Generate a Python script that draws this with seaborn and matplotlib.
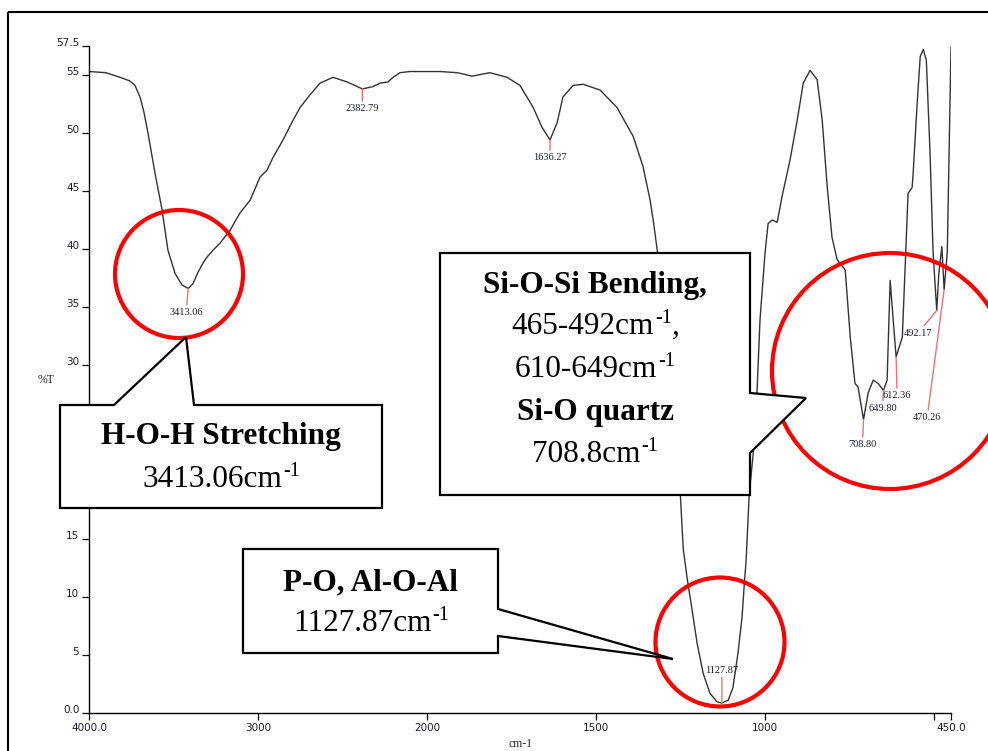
import numpy as np
import pandas as pd
import matplotlib
matplotlib.use("Agg")
import matplotlib.pyplot as plt
import seaborn as sns
from matplotlib.patches import Circle, Polygon

# FTIR spectrum: wavenumber (cm-1) and transmittance (%T)
wavenumber = [
    4000, 3900, 3817, 3760, 3728, 3698, 3675, 3651, 3609, 3568, 3533, 3491,
    3450, 3413.06, 3385, 3355, 3325, 3302, 3266, 3225, 3166, 3107, 3047, 2988,
    2947, 2911, 2852, 2793, 2751, 2692, 2633, 2556, 2473, 2382.79, 2320, 2278,
    2231, 2201, 2160, 2101, 1962, 1911, 1867, 1814, 1763, 1725, 1686, 1660,
    1636.27, 1615, 1598, 1568, 1538, 1488, 1438, 1390, 1361, 1340, 1331, 1319,
    1285, 1251, 1242, 1230, 1216, 1201, 1183, 1163, 1142, 1127.87, 1109, 1095,
    1080, 1068, 1062, 1056, 1047, 1035, 1024, 1015, 1000, 991, 979, 964, 950,
    926, 905, 887, 867, 846, 831, 816, 802, 787, 763, 748, 734, 725, 708.80,
    695, 680, 665, 649.80, 639, 630, 621, 612.36, 594, 586, 577, 565, 562, 550,
    541, 532, 523, 512, 503, 492.17, 486, 477, 470.26, 461, 450,
]
transmittance = [
    55.3, 55.2, 54.8, 54.5, 54.1, 53.1, 51.8, 50.0, 46.5, 43.4, 39.9, 37.9,
    36.9, 36.6, 37.0, 38.0, 38.8, 39.3, 39.9, 40.5, 41.6, 43.1, 44.2, 46.2,
    46.8, 47.9, 49.4, 51.1, 52.2, 53.3, 54.3, 54.8, 54.4, 53.8, 54.0, 54.3,
    54.4, 54.8, 55.2, 55.3, 55.3, 55.2, 54.9, 55.2, 54.8, 54.1, 52.2, 50.5,
    49.4, 50.9, 53.1, 54.1, 54.2, 53.7, 52.2, 49.7, 47.1, 44.2, 42.5, 39.9,
    29.5, 19.0, 14.1, 11.5, 8.9, 6.0, 3.4, 1.7, 0.95, 0.86, 1.1, 2.2,
    5.2, 8.3, 10.9, 13.2, 18.8, 22.4, 27.6, 33.9, 39.7, 42.2, 42.5, 42.3, 44.5,
    47.7, 51.1, 54.3, 55.4, 54.6, 51.1, 45.3, 41.0, 39.1, 38.2, 32.4, 28.4, 28.1, 25.3,
    27.6, 28.7, 28.4, 27.8, 28.7, 37.3, 33.9, 30.7, 32.4, 38.2, 44.8, 45.3, 46.5, 52.6,
    56.6, 57.2, 56.3, 48.3, 39.7, 34.7, 37.9, 40.2, 36.5, 39.7, 57.4,
]

# Labelled peaks and where their labels sit (pixel offsets from the peak)
peak_wn = [3413.06, 2382.79, 1636.27, 1127.87, 708.80, 649.80, 612.36, 492.17, 470.26]
peak_text = ["3413.06", "2382.79", "1636.27", "1127.87", "708.80", "649.80",
             "612.36", "492.17", "470.26"]
peak_label_offset = [(-2, -24), (0, -20), (0, -18), (0, 33), (-1, -25),
                     (-1, -18), (1, -39), (-19, -23), (-17, -128)]

x_ticks = [4000, 3000, 2000, 1500, 1000, 500, 450]
x_tick_labels = ["4000.0", "3000", "2000", "1500", "1000", "", "450.0"]
y_ticks = [0, 5, 10, 15, 20, 25, 30, 35, 40, 45, 50, 55, 57.5]
# 20 and 25 sit underneath the H-O-H callout box
y_tick_labels = ["0.0", "5", "10", "15", "", "", "30", "35", "40", "45",
                 "50", "55", "57.5"]

df = pd.DataFrame({"wavenumber": wavenumber, "T": transmittance})

sns.set_style("white")

fig = plt.figure(figsize=(9.88, 7.51), dpi=100)
ax = fig.add_axes([89 / 988, 38 / 751, 862 / 988, 667 / 751])

sns.lineplot(data=df, x="wavenumber", y="T", ax=ax, estimator=None,
             sort=False, color="#333333", linewidth=1.0)


# Spectrometer-style axis: scale doubles below 2000 cm-1
def fwd(w):
    w = np.asarray(w, dtype=float)
    return np.where(w >= 2000, w, 2000 - 2 * (2000 - w))


def inv(t):
    t = np.asarray(t, dtype=float)
    return np.where(t >= 2000, t, 2000 - (2000 - t) / 2)


ax.set_xscale("function", functions=(fwd, inv))
ax.set_xlim(4000, 450)
ax.set_ylim(0, 57.5)
ax.set_xticks(x_ticks)
ax.set_xticklabels(x_tick_labels)
ax.set_yticks(y_ticks)
ax.set_yticklabels(y_tick_labels)
ax.minorticks_off()
for s in ["top", "right"]:
    ax.spines[s].set_visible(False)
for s in ["left", "bottom"]:
    ax.spines[s].set_color("black")
    ax.spines[s].set_linewidth(1.0)
ax.tick_params(axis="both", direction="out", length=5, width=0.9,
               color="black", labelsize=7.5, labelcolor="#1c1c30", pad=2,
               bottom=True, left=True)
for lab in ax.get_xticklabels() + ax.get_yticklabels():
    lab.set_family("DejaVu Sans")
for lab in ax.get_yticklabels():
    lab.set_verticalalignment("baseline")

ax.set_xlabel("cm-1", family="Liberation Serif", fontsize=8.5, labelpad=4)
ax.set_ylabel("%T", family="Liberation Serif", fontsize=8.5, rotation=0)
ax.yaxis.set_label_coords(-0.05, 0.49)

# Peak markers and labels
lookup = dict(zip(wavenumber, transmittance))
for wn, txt, (dx, dy) in zip(peak_wn, peak_text, peak_label_offset):
    ax.annotate(txt, xy=(wn, lookup[wn]), xytext=(dx, dy),
                textcoords="offset pixels", ha="center", va="center",
                fontsize=7.5, family="Liberation Serif", color="#1c1c30",
                arrowprops=dict(arrowstyle="-", color="#f07070", lw=1.0,
                                shrinkA=0, shrinkB=0))

# Overlay in figure pixels for frame, highlight circles and callouts
ov = fig.add_axes([0, 0, 1, 1], zorder=5)
ov.set_xlim(0, 988)
ov.set_ylim(751, 0)
ov.set_facecolor("none")
ov.axis("off")

ov.plot([8, 8], [751, 12], color="black", lw=1.5, solid_capstyle="butt")
ov.plot([8, 988], [12, 12], color="black", lw=1.5, solid_capstyle="butt")

for (cx, cy, r) in [(179, 274, 64), (890, 371, 118), (720, 642, 64.5)]:
    ov.add_patch(Circle((cx, cy), r, fill=False, edgecolor="#ff0000",
                        lw=3.0, zorder=2))

callouts = [
    [(60, 405), (114, 405), (186, 337), (194, 405), (382, 405), (382, 508), (60, 508)],
    [(440, 253), (750, 253), (750, 393), (806, 398), (750, 453), (750, 495), (440, 495)],
    [(243, 549), (498, 549), (498, 609), (673, 659), (498, 636), (498, 653), (243, 653)],
]
for pts in callouts:
    ov.add_patch(Polygon(pts, closed=True, facecolor="white", edgecolor="black",
                         lw=1.6, joinstyle="miter", zorder=3))

FS = 22.5
SUP_FS = 14.5
SERIF = "Liberation Serif"


def line_text(x, y, text, weight="normal", sup=None, tail=None, shift=0):
    """Draw a centred line of callout text, with an optional superscript
    and trailing text after it."""
    main = ov.text(x + shift, y, text, ha="center", va="baseline", fontsize=FS,
                   family=SERIF, fontweight=weight, color="black", zorder=4)
    if sup is None:
        return
    s = ov.annotate(sup, xy=(1.0, 1.0), xycoords=main, xytext=(1, 3),
                    textcoords="offset pixels", ha="left", va="top",
                    fontsize=SUP_FS, family=SERIF, color="black", zorder=4)
    if tail is not None:
        ov.annotate(tail, xy=(1.0, 0.0), xycoords=(s, main), ha="left",
                    va="bottom", fontsize=FS, family=SERIF, color="black",
                    zorder=4)


line_text(221, 444, "H-O-H Stretching", "bold")
line_text(220, 487, "3413.06cm", sup="-1", shift=-8)
line_text(595, 293, "Si-O-Si Bending,", "bold")
line_text(594, 334, "465-492cm", sup="-1", tail=",", shift=-11)
line_text(594, 377, "610-649cm", sup="-1", shift=-8)
line_text(595, 420, "Si-O quartz", "bold")
line_text(594, 462, "708.8cm", sup="-1", shift=-8)
line_text(370, 590, "P-O, Al-O-Al", "bold")
line_text(370, 631, "1127.87cm", sup="-1", shift=-8)

fig.savefig("out.png", dpi=100, facecolor="white")
